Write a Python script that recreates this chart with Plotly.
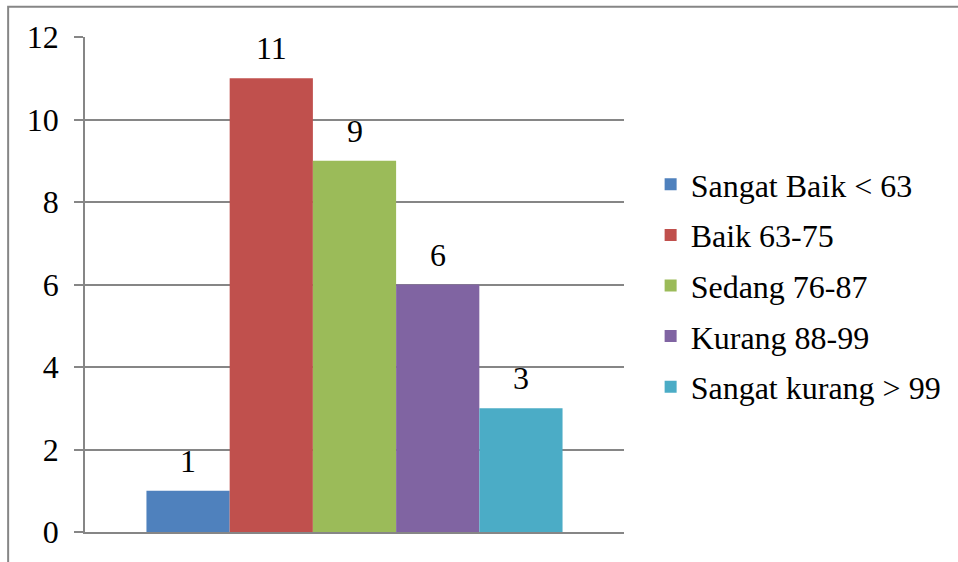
import plotly.graph_objects as go

category = ["Nilai"]
series_names = ["Sangat Baik < 63", "Baik 63-75", "Sedang 76-87", "Kurang 88-99", "Sangat kurang > 99"]
values = [1, 11, 9, 6, 3]
colors = ["#4F81BD", "#C0504D", "#9BBB59", "#8064A2", "#4BACC6"]
y_ticks = [0, 2, 4, 6, 8, 10, 12]

FONT = "Liberation Serif"
GRID = "#868686"
FS = 32
W, H = 958, 562
ML, MR, MT, MB = 85, 333, 37, 27
BARGAP = 0.228

fig = go.Figure()
for i, (name, v, c) in enumerate(zip(series_names, values, colors)):
    fig.add_trace(go.Bar(
        x=category, y=[v], name=name, marker=dict(color=c, line=dict(width=0)),
        legendgroup=f"g{i}",
    ))

# value labels above each bar (offset by each bar's position within the group)
plot_w = W - ML - MR
bar_w = plot_w * (1 - BARGAP) / len(values)
for i, v in enumerate(values):
    fig.add_annotation(
        x=category[0], y=v, text=str(v), showarrow=False,
        xshift=(i - (len(values) - 1) / 2) * bar_w, yshift=10,
        yanchor="bottom", xanchor="center",
        font=dict(family=FONT, size=FS, color="black"),
    )

fig.update_layout(
    width=W, height=H,
    margin=dict(l=ML, r=MR, t=MT, b=MB),
    paper_bgcolor="white", plot_bgcolor="white",
    barmode="group", bargap=BARGAP, bargroupgap=0,
    font=dict(family=FONT, size=FS, color="black"),
    showlegend=True,
    legend=dict(x=1.0494, xanchor="left", y=0.498, yanchor="middle",
                font=dict(family=FONT, size=FS, color="black"),
                traceorder="grouped", tracegroupgap=6,
                bgcolor="rgba(0,0,0,0)"),
    xaxis=dict(showticklabels=False, showgrid=False, showline=True,
               linecolor=GRID, linewidth=1.5, ticks="", zeroline=False),
    yaxis=dict(range=[0, 12], tickvals=y_ticks, showgrid=True, gridcolor=GRID,
               gridwidth=1.5, showline=True, linecolor=GRID, linewidth=1.5,
               ticks="outside", ticklen=9, tickcolor=GRID, tickwidth=1.5,
               zeroline=False, ticklabelstandoff=9,
               tickfont=dict(family=FONT, size=FS, color="black")),
    shapes=[dict(type="rect", xref="paper", yref="paper",
                 x0=(8 - ML) / plot_w, x1=(970 - ML) / plot_w,
                 y0=-(575 - (H - MB)) / (H - MT - MB), y1=((H - MB) - 6.5) / (H - MT - MB),
                 line=dict(color=GRID, width=2), fillcolor="rgba(0,0,0,0)", layer="below")],
)

fig.write_html("out.html")
